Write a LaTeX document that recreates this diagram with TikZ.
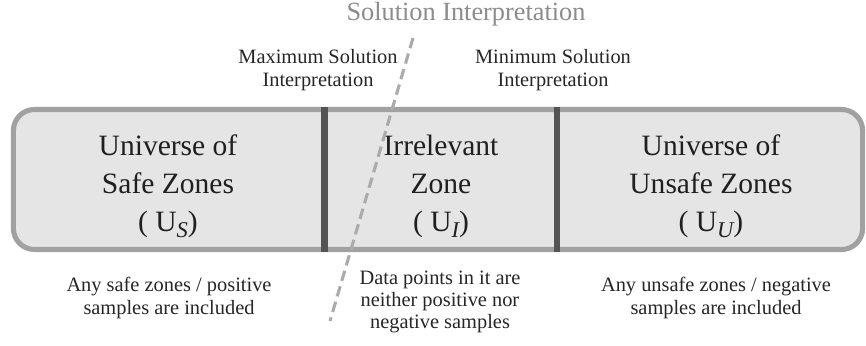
\documentclass[tikz,border=0pt]{standalone}
\usepackage{fontspec}
\setmainfont{Liberation Serif}
\usetikzlibrary{positioning}

\newcommand{\zsub}[1]{\raisebox{-0.45ex}{\fontsize{16}{16}\selectfont\itshape #1}}

\tikzset{
  zonetext/.style={align=center, text=black!88, font=\fontsize{21}{27}\selectfont},
  note/.style={align=center, text=black!85, font=\fontsize{14.5}{15.8}\selectfont},
  divider/.style={draw=black!67, line width=4.6pt},
}

\begin{document}
\begin{tikzpicture}[x=0.025cm,y=-0.025cm]
\useasboundingbox (0,0) rectangle (866,346);
% the universe box
\node[draw=black!37, line width=3.6pt, fill=black!10, rounded corners=15pt,
      minimum width=21.225cm, minimum height=3.5cm, inner sep=0pt] (frame) at (438,179.5) {};
\coordinate (cut1) at (324.5,179.5);
\coordinate (cut2) at (557,179.5);
\draw[divider] (frame.north -| cut1) -- (frame.south -| cut1);
\draw[divider] (frame.north -| cut2) -- (frame.south -| cut2);

\node[zonetext] (safe) at (168,186) {Universe of\\Safe Zones\\( U\zsub{S})};
\node[zonetext] (irr) at (441,186) {Irrelevant\\Zone\\( U\zsub{I})};
\node[zonetext] (unsafe) at (711,186) {Universe of\\Unsafe Zones\\( U\zsub{U})};

% interpretation line
\coordinate (solA) at (413,38);
\coordinate (solB) at (330,321);
\draw[black!33, line width=2.2pt, dash pattern=on 7.5pt off 4pt] (solA) -- (solB);

\node[text=black!45, font=\fontsize{18.7}{22}\selectfont] (sol) at (466,14) {Solution Interpretation};
\node[note] (maxsol) at (318,70) {Maximum Solution\\Interpretation};
\node[note] (minsol) at (553,70) {Minimum Solution\\Interpretation};

\node[note] (safenote) at (169,298) {Any safe zones / positive\\samples are included};
\node[note] (irrnote) at (440,302) {Data points in it are\\neither positive nor\\negative samples};
\node[note] (unsafenote) at (716,298) {Any unsafe zones / negative\\samples are included};
\end{tikzpicture}
\end{document}
